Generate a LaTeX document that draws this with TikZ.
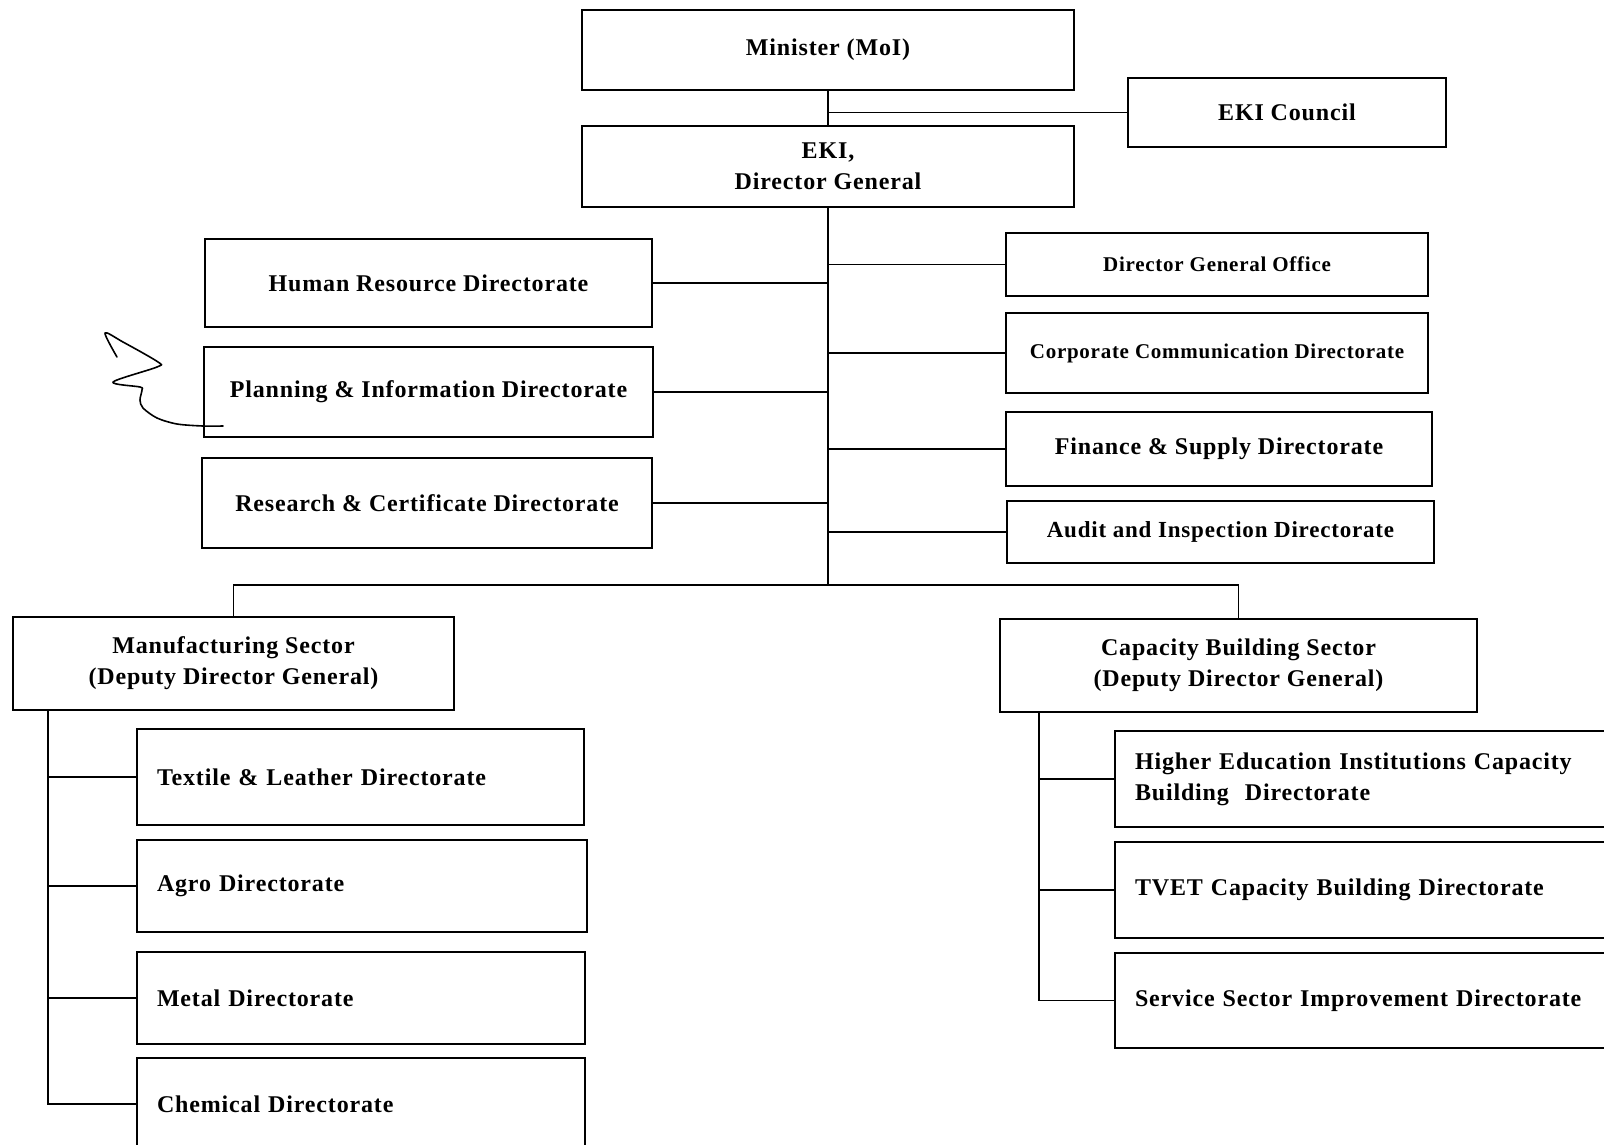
\documentclass[tikz,border=0pt]{standalone}
\usepackage{fontspec}
\setmainfont{Liberation Serif}
\newfontfamily\boxfont{Liberation Serif}[LetterSpace=3.5]
\begin{document}
\begin{tikzpicture}[x=1pt,y=-1pt,
  box/.style={draw, line width=1.6pt, inner sep=0pt, align=center, font=\boxfont\bfseries\fontsize{24}{31}\selectfont},
  lbox/.style={box, align=left, inner xsep=20pt},
  conn/.style={line width=1.5pt}]
\useasboundingbox (0,0) rectangle (1604,1144);
\clip (0,0) rectangle (1604,1144);
\fill[white] (0,0) rectangle (1604,1144);
% top
\node[box, minimum width=492pt, minimum height=80pt] (min) at (828,50) {Minister (MoI)};
\node[box, minimum width=318pt, minimum height=69pt] (council) at (1287,112.5) {EKI Council};
\node[box, minimum width=492pt, minimum height=81pt] (dg) at (828,166.5) {EKI,\\Director General};
% left staff
\node[box, minimum width=447pt, minimum height=88pt] (hr) at (428.5,283) {Human Resource Directorate};
\node[box, minimum width=449pt, minimum height=90pt] (plan) at (428.5,392) {Planning \& Information Directorate};
\node[box, minimum width=450pt, minimum height=90pt] (res) at (427,503) {Research \& Certificate Directorate};
% right staff
\node[box, minimum width=422pt, minimum height=63pt, font=\boxfont\bfseries\fontsize{21}{26}\selectfont] (dgo) at (1217,264.5) {Director General Office};
\node[box, minimum width=422pt, minimum height=80pt, font=\boxfont\bfseries\fontsize{21}{26}\selectfont] (corp) at (1217,353) {Corporate Communication Directorate};
\node[box, minimum width=426pt, minimum height=74pt] (fin) at (1219,449) {Finance \& Supply Directorate};
\node[box, minimum width=427pt, minimum height=62pt, font=\boxfont\bfseries\fontsize{23}{28}\selectfont] (audit) at (1220.5,532) {Audit and Inspection Directorate};
% sectors
\node[box, minimum width=441pt, minimum height=93pt] (man) at (233.5,663.5) {Manufacturing Sector\\(Deputy Director General)};
\node[box, minimum width=477pt, minimum height=93pt] (cap) at (1238.5,665.5) {Capacity Building Sector\\(Deputy Director General)};
% manufacturing directorates
\node[lbox, minimum width=447pt, minimum height=96pt, text width=407pt] (tex) at (360.5,777) {Textile \& Leather Directorate};
\node[lbox, minimum width=450pt, minimum height=92pt, text width=410pt] (agro) at (362,886) {Agro Directorate};
\node[lbox, minimum width=448pt, minimum height=92pt, text width=408pt] (metal) at (361,998) {Metal Directorate};
\node[lbox, minimum width=448pt, minimum height=92pt, text width=408pt] (chem) at (361,1104) {Chemical Directorate};
% capacity directorates
\node[lbox, minimum width=510pt, minimum height=96pt, text width=470pt] (hied) at (1370,779) {Higher Education Institutions Capacity\\Building\ \ Directorate};
\node[lbox, minimum width=510pt, minimum height=96pt, text width=470pt] (tvet) at (1370,890) {TVET Capacity Building Directorate};
\node[lbox, minimum width=510pt, minimum height=95pt, text width=470pt] (serv) at (1370,1000.5) {Service Sector Improvement Directorate};
% connectors
\coordinate (bus) at (828,585);
\draw[conn] (min.south) -- (dg.north);
\draw[conn] (council.west) -- (council.west -| min.south);
\draw[conn] (dg.south) -- (bus);
\foreach \n in {hr,plan,res}{\draw[conn] (\n.east) -- (\n.east -| dg.south);}
\foreach \n in {dgo,corp,fin,audit}{\draw[conn] (\n.west) -- (\n.west -| dg.south);}
\draw[conn] (man.north) |- (bus) -| (cap.north);
\foreach \n in {tex,agro,metal,chem}{\draw[conn] ([xshift=36pt]man.south west) |- (\n.west);}
\foreach \n in {hied,tvet,serv}{\draw[conn] ([xshift=40pt]cap.south west) |- (\n.west);}
% scribble
\draw[line width=1.6pt, line join=round, line cap=round] plot[smooth, tension=0.5] coordinates {(117,357) (105,333) (123,342) (158,362) (157,367) (113,382) (140,387) (142,390) (140,400) (143,408) (157,418) (177,424) (203,426) (223,426)};
\end{tikzpicture}
\end{document}
